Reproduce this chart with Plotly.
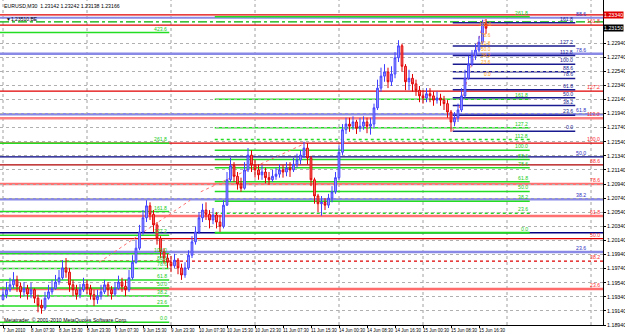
import plotly.graph_objects as go

# ---------------- data ----------------
TITLE = "EURUSD,M30  1.23142 1.23242 1.23138 1.23166"
COPYRIGHT = "Metatrader, \u00a9 2001-2010 MetaQuotes Software Corp."
ORDER_TEXT = "\u25bc1.23510,BE"
order_text_price = 1.2328

first_open = 1.1930
close = [1.1937, 1.1944, 1.1951, 1.1958, 1.1949, 1.1941, 1.1946, 1.1938, 1.1944, 1.1932,
         1.1922, 1.1918, 1.1932, 1.1941, 1.1946, 1.1955, 1.1961, 1.1975, 1.1969, 1.1951,
         1.1944, 1.1937, 1.1944, 1.1952, 1.1946, 1.1937, 1.1930, 1.1935, 1.1941, 1.1951,
         1.1944, 1.1938, 1.1946, 1.1955, 1.1949, 1.1944, 1.1961, 1.1983, 1.2003, 1.2026,
         1.2046, 1.2063, 1.2051, 1.2036, 1.2017, 1.1998, 1.1989, 1.1983, 1.1978, 1.1986,
         1.1975, 1.1965, 1.1975, 1.1993, 1.2012, 1.2026, 1.2046, 1.2057, 1.2051, 1.2043,
         1.2050, 1.2040, 1.2034, 1.2064, 1.2100, 1.2120, 1.2105, 1.2094, 1.2088, 1.2114,
         1.2135, 1.2121, 1.2114, 1.2107, 1.2111, 1.2103, 1.2100, 1.2105, 1.2108, 1.2114,
         1.2111, 1.2117, 1.2114, 1.2122, 1.2128, 1.2135, 1.2145, 1.2131, 1.2100, 1.2077,
         1.2066, 1.2068, 1.2064, 1.2074, 1.2083, 1.2103, 1.2139, 1.2171, 1.2179, 1.2176,
         1.2182, 1.2173, 1.2176, 1.2182, 1.2176, 1.2179, 1.2202, 1.2230, 1.2247, 1.2253,
         1.2239, 1.2250, 1.2273, 1.2290, 1.2261, 1.2239, 1.2244, 1.2236, 1.2227, 1.2219,
         1.2216, 1.2222, 1.2219, 1.2213, 1.2216, 1.2213, 1.2208, 1.2196, 1.2182, 1.2188,
         1.2199, 1.2219, 1.2244, 1.2264, 1.2276, 1.2284, 1.2295, 1.2321, 1.2315]
high = [1.1946, 1.1955, 1.1961, 1.1969, 1.1964, 1.1954, 1.1955, 1.1951, 1.1954, 1.1946,
        1.1937, 1.1930, 1.1941, 1.1951, 1.1958, 1.1965, 1.1972, 1.1986, 1.1989, 1.1975,
        1.1958, 1.1951, 1.1952, 1.1961, 1.1958, 1.1951, 1.1944, 1.1944, 1.1951, 1.1958,
        1.1955, 1.1949, 1.1955, 1.1964, 1.1961, 1.1958, 1.1972, 1.1993, 1.2015, 1.2036,
        1.2057, 1.2071, 1.2068, 1.2057, 1.2040, 1.2020, 1.2003, 1.1995, 1.1992, 1.1995,
        1.1989, 1.1981, 1.1983, 1.2000, 1.2020, 1.2034, 1.2054, 1.2066, 1.2068, 1.2057,
        1.2060, 1.2054, 1.2050, 1.2071, 1.2111, 1.2131, 1.2125, 1.2111, 1.2103, 1.2125,
        1.2145, 1.2142, 1.2128, 1.2122, 1.2121, 1.2117, 1.2111, 1.2114, 1.2117, 1.2122,
        1.2121, 1.2125, 1.2125, 1.2131, 1.2137, 1.2142, 1.2154, 1.2152, 1.2134, 1.2103,
        1.2080, 1.2077, 1.2074, 1.2080, 1.2091, 1.2111, 1.2149, 1.2179, 1.2188, 1.2188,
        1.2190, 1.2185, 1.2188, 1.2190, 1.2188, 1.2188, 1.2208, 1.2242, 1.2259, 1.2264,
        1.2259, 1.2261, 1.2281, 1.2298, 1.2293, 1.2264, 1.2256, 1.2250, 1.2242, 1.2233,
        1.2227, 1.2230, 1.2230, 1.2225, 1.2225, 1.2222, 1.2219, 1.2213, 1.2199, 1.2196,
        1.2208, 1.2230, 1.2256, 1.2276, 1.2284, 1.2293, 1.2304, 1.2327, 1.2328]
low = [1.1930, 1.1932, 1.1941, 1.1946, 1.1941, 1.1932, 1.1935, 1.1930, 1.1932, 1.1925,
       1.1912, 1.1910, 1.1915, 1.1930, 1.1937, 1.1944, 1.1951, 1.1958, 1.1961, 1.1941,
       1.1935, 1.1930, 1.1932, 1.1941, 1.1938, 1.1930, 1.1921, 1.1924, 1.1930, 1.1938,
       1.1935, 1.1930, 1.1935, 1.1944, 1.1941, 1.1935, 1.1941, 1.1958, 1.1981, 1.2000,
       1.2022, 1.2040, 1.2043, 1.2026, 1.2008, 1.1989, 1.1981, 1.1975, 1.1969, 1.1975,
       1.1966, 1.1958, 1.1961, 1.1972, 1.1989, 1.2008, 1.2023, 1.2040, 1.2043, 1.2031,
       1.2037, 1.2031, 1.2026, 1.2031, 1.2063, 1.2097, 1.2097, 1.2086, 1.2083, 1.2086,
       1.2111, 1.2111, 1.2103, 1.2100, 1.2100, 1.2095, 1.2093, 1.2097, 1.2100, 1.2103,
       1.2103, 1.2105, 1.2104, 1.2111, 1.2117, 1.2122, 1.2131, 1.2122, 1.2091, 1.2066,
       1.2054, 1.2049, 1.2057, 1.2060, 1.2068, 1.2080, 1.2100, 1.2135, 1.2165, 1.2168,
       1.2171, 1.2165, 1.2168, 1.2171, 1.2166, 1.2164, 1.2173, 1.2199, 1.2225, 1.2239,
       1.2230, 1.2233, 1.2244, 1.2267, 1.2253, 1.2227, 1.2227, 1.2225, 1.2219, 1.2210,
       1.2208, 1.2210, 1.2210, 1.2205, 1.2208, 1.2205, 1.2199, 1.2188, 1.2168, 1.2176,
       1.2182, 1.2196, 1.2216, 1.2242, 1.2261, 1.2270, 1.2281, 1.2293, 1.2307]

time_labels = ["7 Jun 2010", "8 Jun 07:30", "8 Jun 15:30", "8 Jun 23:30", "9 Jun 07:30",
               "9 Jun 15:30", "9 Jun 23:30", "10 Jun 07:30", "10 Jun 15:30", "10 Jun 23:30",
               "11 Jun 07:30", "11 Jun 15:30", "14 Jun 00:30", "14 Jun 08:30", "14 Jun 16:30",
               "15 Jun 00:30", "15 Jun 08:30", "15 Jun 16:30"]
price_labels = ["1.18940", "1.19140", "1.19340", "1.19540", "1.19740", "1.19940", "1.20140",
                "1.20340", "1.20540", "1.20740", "1.20940", "1.21140", "1.21340", "1.21540",
                "1.21740", "1.21940", "1.22140", "1.22340", "1.22540", "1.22740", "1.22940"]

# Fibonacci objects: anchor prices (0% and 100%), levels
left_fib_p0, left_fib_p100 = 1.1898, 1.1995
left_fib_levels = [0.0, 23.6, 38.2, 50.0, 61.8, 78.6, 88.6, 100.0, 127.2, 161.8, 261.8, 423.6]
mid_fib_p0, mid_fib_p100 = 1.2025, 1.2142
mid_fib_levels = [0.0, 23.6, 38.2, 50.0, 61.8, 78.6, 88.6, 100.0, 112.8, 127.2, 161.8, 261.8]
right_fib_p0, right_fib_p100 = 1.2169, 1.2264
right_fib_levels = [0.0, 23.6, 38.2, 50.0, 61.8, 78.6, 88.6, 100.0, 112.8, 127.2, 161.8]
orange_fib_p0, orange_fib_p100 = 1.2244, 1.2315
orange_fib_levels = [0.0, 23.6, 38.2, 50.0, 61.8, 78.6, 100.0]
red_fib_p0, red_fib_p100 = 1.1881, 1.2152
red_fib_levels = [23.6, 38.2, 50.0, 61.8, 78.6, 88.6, 100.0, 113.0, 127.2, 161.8]
blue_fib_p0, blue_fib_p100 = 1.1877, 1.2388
blue_fib_levels = [23.6, 38.2, 50.0, 61.8, 78.6, 88.6]

hline_red_price = 1.2334
hline_green_price = 1.2324
hline_navy_price = 1.2025
bid_price = 1.2315

# dotted trend lines of the fib tools: (bar0, price0, bar1, price1)
trend_lines = [(55, 1.1983, 107, 1.2071), (113, 1.2083, 173, 1.2152), (257, 1.2169, 275, 1.2327)]

# ---------------- figure ----------------
BAR_STEP = 2  # each candle drawn covers two M30 bars
bars = list(range(0, BAR_STEP * len(close), BAR_STEP))
opens = [first_open] + close[:-1]

FONT = "Liberation Sans"
fig = go.Figure()
fig.add_trace(go.Candlestick(
    x=bars, open=opens, high=high, low=low, close=close,
    increasing=dict(line=dict(color="#4040ff", width=1), fillcolor="#a8a8ff"),
    decreasing=dict(line=dict(color="#e00000", width=1), fillcolor="#ff8080"),
    whiskerwidth=0, showlegend=False, hoverinfo="skip"))

shapes = []
annos = []

def label(x, xref, price, text, color, xanchor="right", size=5.2):
    annos.append(dict(x=x, xref=xref, y=price, yref="y", text=text, showarrow=False,
                      xanchor=xanchor, yanchor="bottom", yshift=-1,
                      font=dict(family=FONT, size=size, color=color)))

def hline(price, color, width=1, dash="solid", x0=0, x1=1, xref="paper"):
    shapes.append(dict(type="line", xref=xref, yref="y", x0=x0, x1=x1, y0=price, y1=price,
                       line=dict(color=color, width=width, dash=dash), layer="below"))

# vertical dotted grid every 48 bars
for b in range(0, 345, 48):
    shapes.append(dict(type="line", xref="x", yref="paper", x0=b, x1=b, y0=0, y1=1,
                       line=dict(color="#a0a0a0", width=1, dash="dot"), layer="below"))

# full-width red fib
red_styles = {23.6: ("#ff6a6a", 2.5, "solid"), 38.2: ("#e00000", 1.2, "dot"),
              50.0: ("#e00000", 1.2, "solid"), 61.8: ("#ff7070", 2.5, "solid"),
              78.6: ("#ff7070", 2.5, "solid"), 88.6: ("#b00000", 1.2, "solid"),
              100.0: ("#e00000", 1.2, "solid"), 113.0: ("#ff8080", 2.5, "solid"),
              127.2: ("#e00000", 1.2, "solid"), 161.8: ("#e00000", 1.2, "solid")}
for L in red_fib_levels:
    p = red_fib_p0 + (red_fib_p100 - red_fib_p0) * L / 100
    c, w, d = red_styles[L]
    hline(p, c, w, d)
    label(0.998, "paper", p, f"{L:.1f}", "#ff3030")

# full-width blue fib
blue_styles = {23.6: ("#8a8ae6", 2.5), 38.2: ("#8a8ae6", 2.5), 50.0: ("#000080", 1.2),
               61.8: ("#8a8ae6", 2.5), 78.6: ("#8a8ae6", 2.5), 88.6: ("#8a8ae6", 2.0)}
for L in blue_fib_levels:
    p = blue_fib_p0 + (blue_fib_p100 - blue_fib_p0) * L / 100
    c, w = blue_styles[L]
    hline(p, c, w)
    label(0.975, "paper", p, f"{L:.1f}", "#3030c0")

hline(hline_navy_price, "#000080", 1.5)
hline(hline_red_price, "#e00000", 1.2)
hline(hline_green_price, "#00b000", 1.2, "dashdot")

# left green fib
for L in left_fib_levels:
    p = left_fib_p0 + (left_fib_p100 - left_fib_p0) * L / 100
    hline(p, "#22dd22", 1.5, "solid", x0=-2, x1=95, xref="x")
    label(95, "x", p, f"{L:.1f}", "#22cc22")

# middle green fib
for L in mid_fib_levels:
    p = mid_fib_p0 + (mid_fib_p100 - mid_fib_p0) * L / 100
    d = "dot" if L in (112.8, 23.6) else "solid"
    w = 2 if L == 0.0 else 1.5
    hline(p, "#22dd22", w, d, x0=121, x1=301, xref="x")
    label(301, "x", p, f"{L:.1f}", "#22cc22")

# right navy fib
for L in right_fib_levels:
    p = right_fib_p0 + (right_fib_p100 - right_fib_p0) * L / 100
    hline(p, "#1a1a90", 1.5, "solid", x0=257, x1=327, xref="x")
    label(327, "x", p, f"{L:.1f}", "#1a1a90")

# orange fib (labels only visible)
for L in orange_fib_levels:
    p = orange_fib_p0 + (orange_fib_p100 - orange_fib_p0) * L / 100
    label(280, "x", p, f"{L:.1f}", "#ff9900", size=4.8)

for (b0, p0, b1, p1) in trend_lines:
    shapes.append(dict(type="line", xref="x", yref="y", x0=b0, x1=b1, y0=p0, y1=p1,
                       line=dict(color="#ff7070", width=1, dash="dot"), layer="below"))

# time labels (left aligned at their tick as in MetaTrader)
tick_bars = [16 * k for k in range(len(time_labels))]
for b, t in zip(tick_bars, time_labels):
    annos.append(dict(x=b, xref="x", y=0, yref="paper", yanchor="top", xanchor="left",
                      yshift=-1, xshift=-2, text=t, showarrow=False,
                      font=dict(family=FONT, size=4.5, color="#000000")))

# price tags on the axis
annos.append(dict(x=1, xref="paper", y=hline_red_price, yref="y", xanchor="left", text="1.23340",
                  showarrow=False, bgcolor="#e00000", borderpad=0,
                  font=dict(family=FONT, size=5.3, color="#ffffff")))
annos.append(dict(x=1, xref="paper", y=bid_price, yref="y", xanchor="left", text="1.23150",
                  showarrow=False, bgcolor="#000000", borderpad=0,
                  font=dict(family=FONT, size=5.3, color="#ffffff")))

annos.append(dict(x=0.004, xref="paper", y=1, yref="paper", xanchor="left", yanchor="top",
                  yshift=-1, text=TITLE, showarrow=False,
                  font=dict(family=FONT, size=5.2, color="#000000")))
annos.append(dict(x=0.006, xref="paper", y=order_text_price, yref="y", xanchor="left",
                  yanchor="middle", text=ORDER_TEXT, showarrow=False,
                  font=dict(family=FONT, size=5.0, color="#000000")))
annos.append(dict(x=0.004, xref="paper", y=0, yref="paper", xanchor="left", yanchor="bottom",
                  yshift=0, text=COPYRIGHT, showarrow=False,
                  font=dict(family=FONT, size=5.2, color="#000000")))

price_vals = [float(s) for s in price_labels]

fig.update_layout(
    width=625, height=334, margin=dict(l=0, r=22, t=0, b=9),
    paper_bgcolor="#ffffff", plot_bgcolor="#ffffff",
    shapes=shapes, annotations=annos, showlegend=False,
    xaxis=dict(range=[-1.714, 342.86], rangeslider=dict(visible=False), showgrid=False,
               zeroline=False, tickvals=tick_bars, showticklabels=False, ticks="outside",
               ticklen=2, tickcolor="#000000", showline=True, linecolor="#000000",
               linewidth=1),
    yaxis=dict(range=[1.18940, 1.23550], side="right", tickvals=price_vals,
               ticktext=price_labels, tickfont=dict(family=FONT, size=5.3, color="#000000"),
               showgrid=True, gridcolor="#b0b0b0", griddash="dot", gridwidth=1,
               zeroline=False, ticks="outside", ticklen=2, tickcolor="#000000",
               showline=True, linecolor="#000000", linewidth=1),
)

fig.write_html("out.html")
